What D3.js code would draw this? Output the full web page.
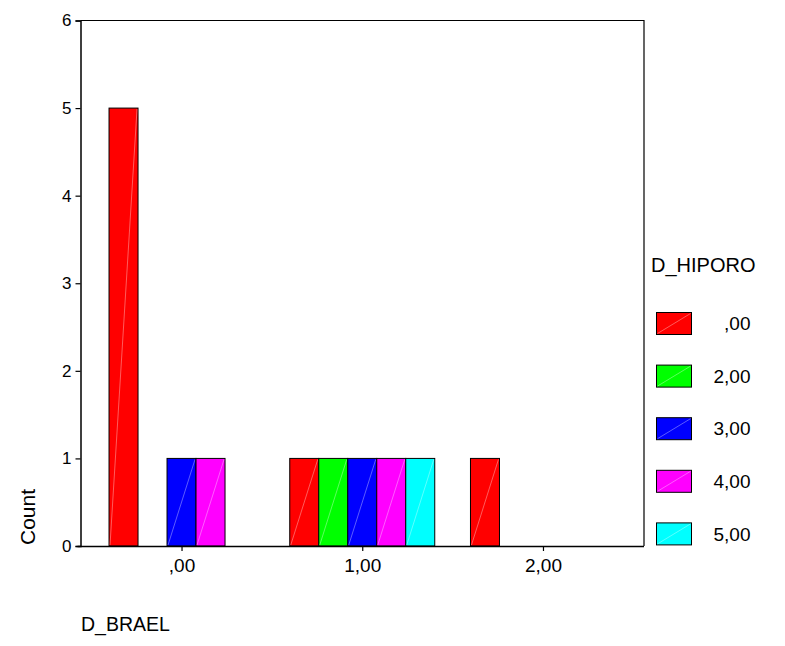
<!DOCTYPE html>
<html><head><meta charset="utf-8">
<script src="https://cdn.jsdelivr.net/npm/d3@7"></script>
<style>
html,body{margin:0;padding:0;background:#fff;}
text{font-family:"Liberation Sans",Arial,sans-serif;fill:#000;}
</style></head>
<body>
<svg id="chart" width="785" height="646"></svg>
<script>
// ---- data ----
const categories = [",00", "1,00", "2,00"];          // D_BRAEL
const seriesNames = [",00", "2,00", "3,00", "4,00", "5,00"]; // D_HIPORO
const countsH00 = [5, 1, 1];
const countsH20 = [0, 1, 0];
const countsH30 = [1, 1, 0];
const countsH40 = [1, 1, 0];
const countsH50 = [0, 1, 0];
const seriesColors = ["#ff0000", "#00ff00", "#0000ff", "#ff00ff", "#00ffff"];
const yTicks = [0, 1, 2, 3, 4, 5, 6];

const seriesValues = [countsH00, countsH20, countsH30, countsH40, countsH50];
const rows = [];
categories.forEach((c, ci) => {
  seriesNames.forEach((s, si) => {
    rows.push({cat: c, ser: s, si: si, v: seriesValues[si][ci]});
  });
});

const svg = d3.select("#chart");
const L = 80.5, R = 644, T = 20.5, B = 546;

const x = d3.scalePoint().domain(categories).range([L, R]).padding(0.559);
const xs = d3.scaleBand().domain(seriesNames).range([-72.5, 72.5]);
const y = d3.scaleLinear().domain([0, 6]).range([B, T]);
const color = d3.scaleOrdinal().domain(seriesNames).range(seriesColors);

// frame (top and right)
svg.append("path")
  .attr("d", `M${L},${T}H${R}V${B}`)
  .attr("fill", "none").attr("stroke", "#000").attr("stroke-width", 1.2);

// bars
const bars = svg.append("g").selectAll("g")
  .data(rows.filter(d => d.v > 0)).join("g");
bars.append("rect")
  .attr("x", d => x(d.cat) + xs(d.ser))
  .attr("y", d => y(d.v))
  .attr("width", xs.bandwidth())
  .attr("height", d => y(0) - y(d.v))
  .attr("fill", d => color(d.ser))
  .attr("stroke", "#000").attr("stroke-width", 1);
bars.append("line")
  .attr("x1", d => x(d.cat) + xs(d.ser) + 1)
  .attr("y1", d => y(0) - 1)
  .attr("x2", d => x(d.cat) + xs(d.ser) + xs.bandwidth() - 1)
  .attr("y2", d => y(d.v) + 1)
  .attr("stroke", "#fff").attr("stroke-opacity", 0.45).attr("stroke-width", 0.8);

// y axis
const yAxis = svg.append("g").attr("transform", `translate(${L},0)`)
  .call(d3.axisLeft(y).tickValues(yTicks).tickFormat(d3.format("d")).tickSize(5).tickPadding(4));
yAxis.select(".domain").attr("stroke-width", 1.5);
yAxis.selectAll(".tick line").attr("stroke-width", 1.2);
yAxis.selectAll("text").style("font-size", "17px").attr("font-family", null);

// x axis
const xAxis = svg.append("g").attr("transform", `translate(0,${B})`)
  .call(d3.axisBottom(x).tickSize(5).tickPadding(8).tickSizeOuter(0));
xAxis.select(".domain").attr("d", `M${L - 3},0.5H${R}`).attr("stroke-width", 1.5);
xAxis.selectAll(".tick line").attr("stroke-width", 1.2);
xAxis.selectAll("text").style("font-size", "19px").attr("font-family", null);

// axis titles
svg.append("text")
  .attr("transform", `translate(35,${B - 1}) rotate(-90)`)
  .attr("text-anchor", "start")
  .style("font-size", "21px").text("Count");
svg.append("text")
  .attr("x", 81).attr("y", 631)
  .style("font-size", "19.5px").text("D_BRAEL");

// legend
svg.append("text").attr("x", 651).attr("y", 272)
  .style("font-size", "20px").text("D_HIPORO");
const lg = svg.append("g").selectAll("g").data(seriesNames).join("g")
  .attr("transform", (d, i) => `translate(656.5,${312.5 + i * 52.6})`);
lg.append("rect").attr("width", 35).attr("height", 22)
  .attr("fill", d => color(d)).attr("stroke", "#000").attr("stroke-width", 1);
lg.append("line").attr("x1", 1).attr("y1", 21).attr("x2", 34).attr("y2", 1)
  .attr("stroke", "#fff").attr("stroke-opacity", 0.45).attr("stroke-width", 0.8);
lg.append("text").attr("x", 94).attr("y", 11).attr("dy", "0.35em")
  .attr("text-anchor", "end").style("font-size", "19px").text(d => d);
</script>
</body></html>
